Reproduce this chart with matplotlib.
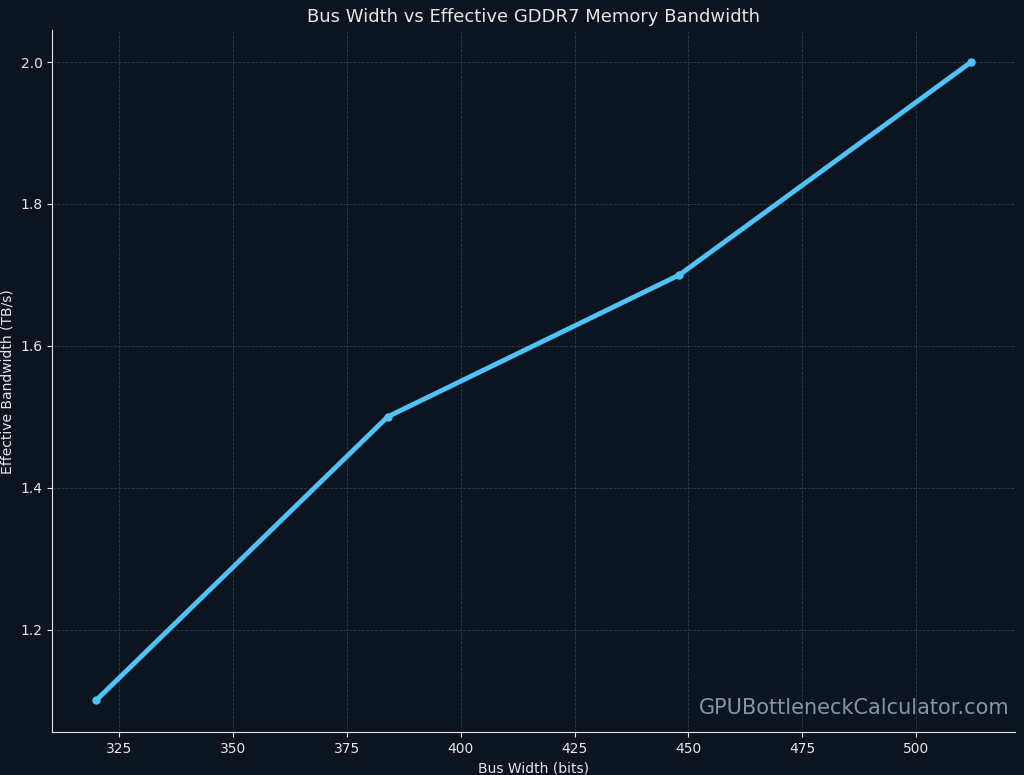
import matplotlib
matplotlib.use("Agg")
from matplotlib import pyplot as plt

bus_width = [320, 384, 448, 512]
bandwidth = [1.1, 1.5, 1.7, 2.0]

bg = "#0c1420"
fg = "#e6e6e6"

fig = plt.figure(figsize=(10.24, 7.75), dpi=100, facecolor=bg)
ax = fig.add_axes([0.051, 0.055, 0.940, 0.906], facecolor=bg)

ax.plot(bus_width, bandwidth, color="#4fc3f7", linewidth=3.5, marker="o", markersize=5)

ax.set_title("Bus Width vs Effective GDDR7 Memory Bandwidth", color=fg, fontsize=13)
ax.set_xlabel("Bus Width (bits)", color=fg, fontsize=10)
ax.set_ylabel("Effective Bandwidth (TB/s)", color=fg, fontsize=10)
ax.tick_params(colors=fg, labelsize=10)
for side in ("top", "right"):
    ax.spines[side].set_visible(False)
for side in ("left", "bottom"):
    ax.spines[side].set_color(fg)
ax.grid(True, linestyle="--", linewidth=0.6, color="#3a4556", alpha=0.8)

ax.text(0.995, 0.02, "GPUBottleneckCalculator.com", transform=ax.transAxes,
        ha="right", va="bottom", color="#9aa3ad", fontsize=15, alpha=0.9)

fig.savefig("out.png", dpi=100, facecolor=bg)
